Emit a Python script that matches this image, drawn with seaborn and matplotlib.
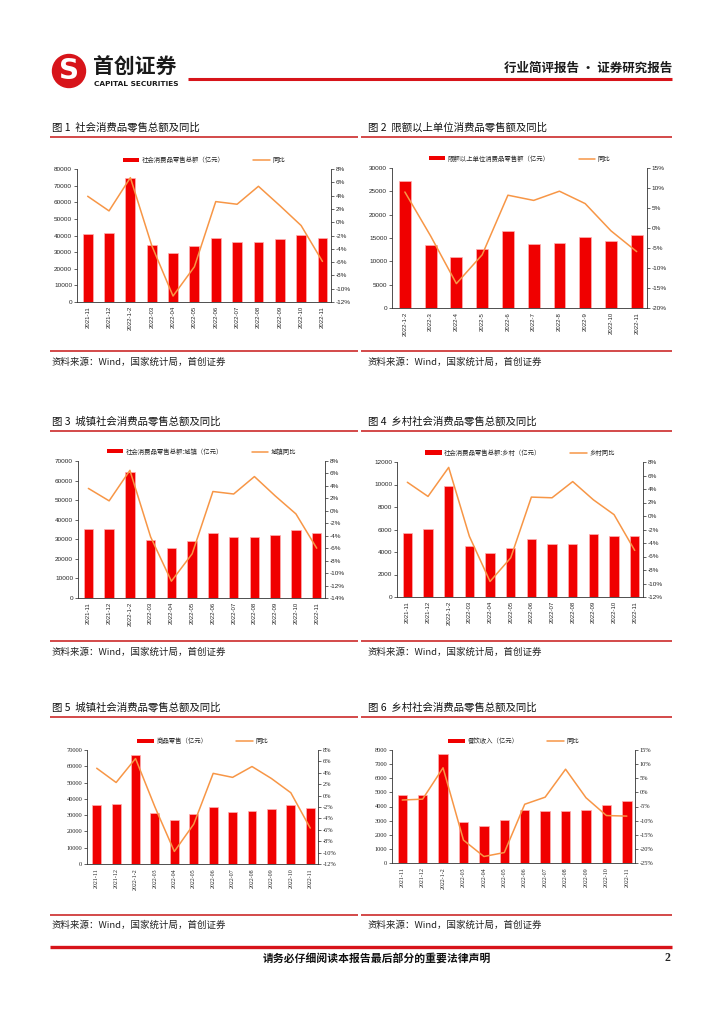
import numpy as np
import pandas as pd
import matplotlib
matplotlib.use('Agg')
import matplotlib.pyplot as plt
import seaborn as sns
from matplotlib.patches import Patch, Circle
from matplotlib.lines import Line2D
from matplotlib.ticker import FuncFormatter, MultipleLocator

sns.set_style('white')
plt.rcParams['font.family'] = ['Noto Sans CJK SC', 'DejaVu Sans']
plt.rcParams['axes.unicode_minus'] = False

BAR_RED = '#F00000'
LINE_ORANGE = '#F79646'
DECO_RED = '#D7141A'

# categories
months_a = ['2021-11', '2021-12', '2022-1-2', '2022-03', '2022-04', '2022-05',
            '2022-06', '2022-07', '2022-08', '2022-09', '2022-10', '2022-11']
months_b = ['2022-1-2', '2022-3', '2022-4', '2022-5', '2022-6', '2022-7',
            '2022-8', '2022-9', '2022-10', '2022-11']

# fig 1: total retail sales (100m yuan) and yoy (%)
total_sales = [41043, 41269, 74426, 34233, 29483, 33547, 38742, 35870, 36258, 37745, 40271, 38615]
total_yoy = [3.9, 1.7, 6.7, -3.5, -11.1, -6.7, 3.1, 2.7, 5.4, 2.5, -0.5, -5.9]

# fig 2: above-quota units
quota_sales = [27240, 13510, 10880, 12660, 16500, 13660, 13940, 15220, 14300, 15580]
quota_yoy = [9.0, -2.0, -13.9, -6.7, 8.2, 6.9, 9.2, 6.1, -0.7, -5.9]

# fig 3: urban
urban_sales = [35160, 35160, 64330, 29520, 25430, 29010, 33100, 31060, 31400, 32080, 34810, 33280]
urban_yoy = [3.6, 1.6, 6.5, -4.2, -11.3, -6.9, 3.1, 2.7, 5.5, 2.4, -0.5, -6.0]

# fig 4: rural
rural_sales = [5720, 6050, 9850, 4570, 3890, 4390, 5160, 4720, 4720, 5580, 5430, 5460]
rural_yoy = [5.0, 2.9, 7.2, -3.0, -9.7, -6.2, 2.8, 2.7, 5.1, 2.4, 0.2, -5.1]

# fig 5: goods retail
goods_sales = [36330, 36730, 66940, 31430, 27140, 30820, 35100, 32040, 32650, 33880, 36330, 34490]
goods_yoy = [4.8, 2.3, 6.5, -2.0, -9.8, -5.0, 3.9, 3.2, 5.1, 3.0, 0.5, -5.7]

# fig 6: catering
catering_sales = [4800, 4800, 7690, 2910, 2600, 3030, 3740, 3690, 3690, 3740, 4090, 4400]
catering_yoy = [-2.7, -2.4, 8.7, -16.9, -22.7, -21.3, -4.2, -1.7, 8.2, -1.9, -8.2, -8.4]

W, H = 724, 1024
fig = plt.figure(figsize=(W / 100, H / 100), dpi=100)

# page decoration layer in pixel coords
deco = fig.add_axes([0, 0, 1, 1])
deco.set_xlim(0, W)
deco.set_ylim(H, 0)
deco.axis('off')


def px_rect(left, top, right, bottom):
    return [left / W, 1 - bottom / H, (right - left) / W, (bottom - top) / H]


def draw_chart(rect, cats, sales, yoy, bar_label, line_label, lmax, lstep,
               rmin, rmax, rstep, tick_font, lfs=4.6):
    ax = fig.add_axes(rect)
    df = pd.DataFrame({'month': cats, 'sales': sales, 'yoy': yoy, 'pos': np.arange(len(cats))})
    sns.barplot(data=df, x='month', y='sales', color=BAR_RED, width=0.46,
                edgecolor='#FFB0B0', linewidth=0.5, saturation=1, ax=ax)
    ax.set_ylim(0, lmax)
    ax.yaxis.set_major_locator(MultipleLocator(lstep))
    ax.set_xlim(-0.5, len(cats) - 0.6)
    ax.set_xlabel('')
    ax.set_ylabel('')

    ax2 = ax.twinx()
    sns.lineplot(data=df, x='pos', y='yoy', color=LINE_ORANGE, linewidth=1.1, ax=ax2)
    ax2.set_ylim(rmin, rmax)
    ax2.yaxis.set_major_locator(MultipleLocator(rstep))
    ax2.yaxis.set_major_formatter(FuncFormatter(lambda v, p: f'{v:.0f}%'))
    ax2.set_ylabel('')
    ax2.set_xlabel('')

    for a in (ax, ax2):
        for s in a.spines.values():
            s.set_linewidth(0.6)
            s.set_color('#333333')
        a.spines['top'].set_visible(False)
    ax.spines['right'].set_visible(False)
    ax2.spines['left'].set_visible(False)
    ax2.spines['bottom'].set_visible(False)

    ax.set_xticks(np.arange(len(cats)))
    ax.set_xticklabels(cats, rotation=90, fontsize=4.3, family=tick_font)
    ax.tick_params(axis='x', length=0, pad=3)
    ax.tick_params(axis='y', length=2, width=0.5, pad=1.5, labelsize=4.6, direction='out', left=True)
    ax2.tick_params(axis='y', length=2, width=0.5, pad=1.5, labelsize=4.6, direction='out', right=True)
    for lab in ax.get_yticklabels() + ax2.get_yticklabels():
        lab.set_family(tick_font)

    handles = [Patch(facecolor=BAR_RED, edgecolor='none'),
               Line2D([0], [0], color=LINE_ORANGE, linewidth=1.1)]
    ax2.legend(handles, [bar_label, line_label], loc='lower center',
               bbox_to_anchor=(0.5, 1.02), ncol=2, frameon=False, fontsize=lfs,
               handlelength=2.6, handleheight=0.6, columnspacing=4.5, handletextpad=0.4,
               borderaxespad=0)
    return ax, ax2


SERIF = ['Liberation Serif', 'DejaVu Serif']
SANS = ['Liberation Sans', 'DejaVu Sans']

draw_chart(px_rect(77, 169, 331, 302), months_a, total_sales, total_yoy,
           '社会消费品零售总额（亿元）', '同比', 80000, 10000, -12, 8, 2, SANS)
draw_chart(px_rect(392, 168, 647, 308), months_b, quota_sales, quota_yoy,
           '限额以上单位消费品零售额（亿元）', '同比', 30000, 5000, -20, 15, 5, SANS)
draw_chart(px_rect(78, 461, 325, 598), months_a, urban_sales, urban_yoy,
           '社会消费品零售总额:城镇（亿元）', '城镇同比', 70000, 10000, -14, 8, 2, SANS)
draw_chart(px_rect(397, 462, 643, 597), months_a, rural_sales, rural_yoy,
           '社会消费品零售总额:乡村（亿元）', '乡村同比', 12000, 2000, -12, 8, 2, SANS)
draw_chart(px_rect(87, 750, 318, 864), months_a, goods_sales, goods_yoy,
           '商品零售（亿元）', '同比', 70000, 10000, -12, 8, 2, SERIF)
draw_chart(px_rect(392, 750, 635, 863), months_a, catering_sales, catering_yoy,
           '餐饮收入（亿元）', '同比', 8000, 1000, -25, 15, 5, SERIF)

# header
deco.add_patch(Circle((69, 71), 16.5, color=DECO_RED))
deco.text(69, 71, 'S', color='white', fontsize=20, fontweight='bold',
          ha='center', va='center', family=['DejaVu Sans'])
deco.text(93, 67, '首创证券', fontsize=15, fontweight='bold', color='#1a1a1a',
          ha='left', va='center')
deco.text(94, 84, 'CAPITAL SECURITIES', fontsize=5.3, fontweight='bold', color='#1a1a1a',
          ha='left', va='center', family=['DejaVu Sans'])
deco.plot([188, 672], [78.5, 78.5], color=DECO_RED, linewidth=2.2, solid_capstyle='butt')
deco.text(672, 68, '行业简评报告 · 证券研究报告', fontsize=9, fontweight='bold',
          color='#1a1a1a', ha='right', va='center')

titles = [('图 1  社会消费品零售总额及同比', '图 2  限额以上单位消费品零售额及同比', 127, 137, 351, 362),
          ('图 3  城镇社会消费品零售总额及同比', '图 4  乡村社会消费品零售总额及同比', 421, 431, 641, 652),
          ('图 5  城镇社会消费品零售总额及同比', '图 6  乡村社会消费品零售总额及同比', 707, 717, 915, 925)]
src = '资料来源：Wind，国家统计局，首创证券'
for t1, t2, ty, ly, sy, st in titles:
    deco.text(52, ty, t1, fontsize=7.5, ha='left', va='center', color='#111111')
    deco.text(368, ty, t2, fontsize=7.5, ha='left', va='center', color='#111111')
    for y in (ly, sy):
        deco.plot([50, 358], [y, y], color='#D03A3A', linewidth=1.3, solid_capstyle='butt')
        deco.plot([361, 672], [y, y], color='#D03A3A', linewidth=1.3, solid_capstyle='butt')
    deco.text(52, st, src, fontsize=6.8, ha='left', va='center', color='#222222', style='italic')
    deco.text(368, st, src, fontsize=6.8, ha='left', va='center', color='#222222', style='italic')

# footer
deco.plot([50, 672], [947, 947], color=DECO_RED, linewidth=2.4, solid_capstyle='butt')
deco.text(377, 958, '请务必仔细阅读本报告最后部分的重要法律声明', fontsize=7.8, fontweight='bold',
          ha='center', va='center', color='#111111')
deco.text(670, 958, '2', fontsize=8.5, fontweight='bold', ha='right', va='center',
          family=['Liberation Serif'])

fig.savefig('out.png', dpi=100)
